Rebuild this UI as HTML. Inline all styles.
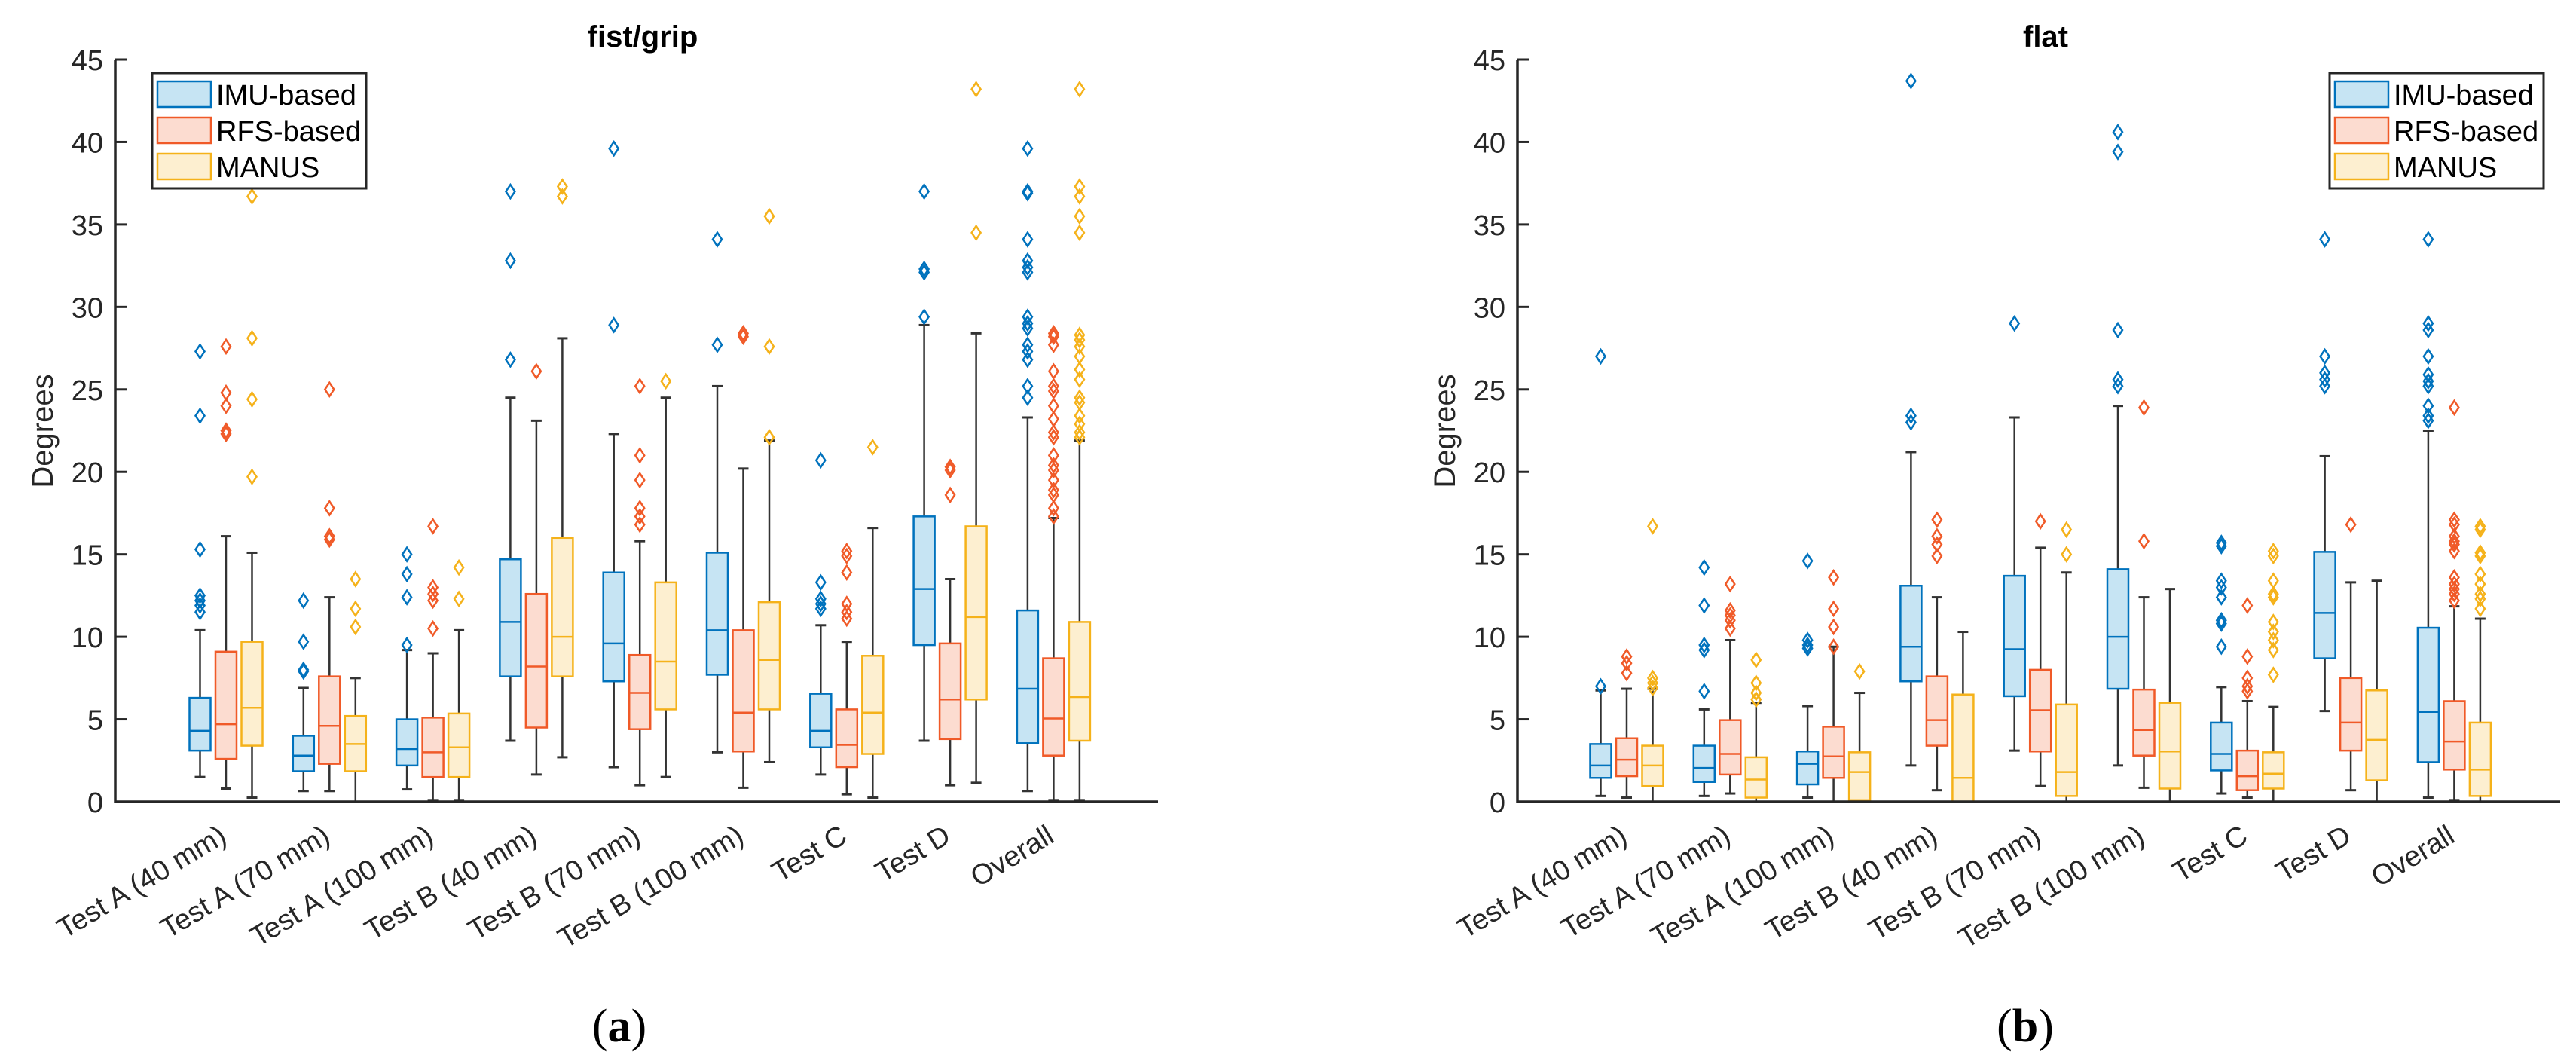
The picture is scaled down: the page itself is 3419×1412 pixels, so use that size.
<!DOCTYPE html>
<html><head><meta charset="utf-8"><style>
html,body{margin:0;padding:0;background:#fff;}
svg{display:block;font-family:"Liberation Sans",Arial,sans-serif;}
</style></head><body>
<svg id="fig" width="3419" height="1412" viewBox="0 0 3419 1412" xmlns="http://www.w3.org/2000/svg"></svg>
<script>
const categories = ["Test A (40 mm)","Test A (70 mm)","Test A (100 mm)","Test B (40 mm)","Test B (70 mm)","Test B (100 mm)","Test C","Test D","Overall"];
const yTicks = [0,5,10,15,20,25,30,35,40,45];
const seriesNames = ["IMU-based","RFS-based","MANUS"];
// [whiskerLow, q1, median, q3, whiskerHigh]
const fistIMU = [[1.5,3.1,4.3,6.3,10.4],[0.65,1.85,2.8,4.0,6.9],[0.75,2.2,3.2,5.0,9.2],[3.7,7.6,10.9,14.7,24.5],[2.1,7.3,9.6,13.9,22.3],[3.0,7.7,10.4,15.1,25.2],[1.65,3.3,4.3,6.55,10.7],[3.7,9.5,12.9,17.3,28.9],[0.65,3.55,6.85,11.6,23.3]];
const fistRFS = [[0.8,2.6,4.7,9.1,16.1],[0.65,2.3,4.6,7.6,12.4],[0.1,1.5,3.0,5.1,9.0],[1.65,4.5,8.2,12.6,23.1],[1.0,4.4,6.6,8.9,15.8],[0.85,3.05,5.4,10.4,20.2],[0.45,2.1,3.45,5.6,9.7],[1.0,3.8,6.2,9.6,13.5],[0.1,2.8,5.05,8.7,17.2]];
const fistMANUS = [[0.25,3.4,5.7,9.7,15.1],[0,1.85,3.5,5.2,7.5],[0.1,1.5,3.3,5.35,10.4],[2.7,7.6,10.0,16.0,28.1],[1.5,5.6,8.5,13.3,24.5],[2.4,5.6,8.6,12.1,21.9],[0.25,2.9,5.4,8.85,16.6],[1.15,6.2,11.2,16.7,28.4],[0.1,3.7,6.35,10.9,21.9]];
const fistIMUOut = [[27.3,23.4,15.3,12.5,12.2,11.9,11.5],[12.2,9.7,8.0,7.9],[15.0,13.8,12.4,9.5],[37.0,32.8,26.8],[39.6,28.9],[34.1,27.7],[20.7,13.3,12.3,12.0,11.7],[37.0,32.3,32.1,29.4],[39.6,37.0,36.9,34.1,32.8,32.4,32.1,29.4,29.0,28.7,27.7,27.3,26.8,25.2,24.5]];
const fistRFSOut = [[27.6,24.8,24.0,22.5,22.3],[25.0,17.8,16.1,15.9],[16.7,13.0,12.6,12.2,10.5],[26.1],[25.2,21.0,19.5,17.8,17.3,16.8],[28.4,28.2],[15.2,14.9,13.9,12.0,11.5,11.1],[20.3,20.1,18.6],[28.4,28.2,27.7,26.1,25.2,24.9,24.0,23.2,22.4,22.1,21.0,20.4,20.1,19.5,18.9,18.6,17.8,17.3]];
const fistMANUSOut = [[36.7,28.1,24.4,19.7],[13.5,11.7,10.6],[14.2,12.3],[37.3,36.7],[25.5],[35.5,27.6,22.1],[21.5],[43.2,34.5],[43.2,37.3,36.7,35.5,34.5,28.3,28.0,27.6,27.0,26.2,25.6,24.5,24.2,23.4,22.9,22.4,22.1]];
const flatIMU = [[0.35,1.45,2.2,3.5,6.75],[0.35,1.2,2.05,3.4,5.6],[0.25,1.05,2.3,3.05,5.8],[2.2,7.3,9.4,13.1,21.2],[3.1,6.4,9.25,13.7,23.3],[2.2,6.85,10.0,14.1,24.0],[0.5,1.9,2.9,4.8,6.95],[5.5,8.7,11.45,15.15,20.95],[0.25,2.4,5.45,10.55,22.5]];
const flatRFS = [[0.25,1.55,2.55,3.85,6.85],[0.5,1.65,2.9,4.95,9.8],[0,1.45,2.75,4.55,9.4],[0.7,3.4,4.95,7.6,12.4],[0.95,3.05,5.55,8.0,15.4],[0.85,2.8,4.35,6.8,12.4],[0.25,0.7,1.55,3.1,6.1],[0.7,3.1,4.8,7.5,13.3],[0.1,1.95,3.65,6.1,11.85]];
const flatMANUS = [[0,0.95,2.2,3.4,6.85],[0,0.25,1.35,2.7,6.0],[0,0.1,1.8,3.0,6.6],[0,0,1.45,6.5,10.3],[0,0.35,1.8,5.9,13.9],[0,0.8,3.05,6.0,12.9],[0,0.8,1.7,3.0,5.75],[0,1.3,3.75,6.75,13.4],[0,0.35,1.95,4.8,11.1]];
const flatIMUOut = [[27.0,7.0],[14.2,11.9,9.5,9.2,6.7],[14.6,9.8,9.5,9.3],[43.7,23.4,23.0],[29.0],[40.6,39.4,28.6,25.6,25.2],[15.7,15.5,13.4,13.0,12.4,11.0,10.8,9.4],[34.1,27.0,26.0,25.6,25.2],[34.1,29.0,28.6,27.0,25.9,25.5,25.2,24.0,23.4,23.1]];
const flatRFSOut = [[8.8,8.4,7.8],[13.2,11.6,11.3,11.0,10.5],[13.6,11.7,10.6,9.4],[17.1,16.1,15.6,14.9],[17.0],[23.9,15.8],[11.9,8.8,7.5,7.0,6.7],[16.8],[23.9,17.1,16.8,16.1,15.8,15.6,15.2,13.6,13.2,12.9,12.6,12.2]];
const flatMANUSOut = [[16.7,7.5,7.2,6.9],[8.6,7.2,6.6,6.2],[7.9],[],[16.5,15.0],[],[15.2,14.9,13.4,12.6,12.4,10.9,10.3,9.8,9.2,7.7],[],[16.7,16.5,15.1,14.9,13.8,13.2,12.6,12.3,11.7]];

const NS="http://www.w3.org/2000/svg";
const svg=document.getElementById('fig');
const strokes=["#0072BD","#F05A28","#F5B21A"];
const fills=["#C6E4F3","#FCDCD0","#FDEFD0"];
function mk(tag,attrs,parent){const e=document.createElementNS(NS,tag);for(const k in attrs)e.setAttribute(k,attrs[k]);(parent||svg).appendChild(e);return e;}

const Y0=1064, Y45=79;
function yScale(v){return Y0-(v/45)*(Y0-Y45);}

function drawChart(cfg){
  const g=mk('g',{});
  
  
  const xScale=(i,s)=>cfg.g0+cfg.gs*i+(s-1)*cfg.off;
  const t=mk('text',{x:cfg.titleX,y:62,'text-anchor':'middle','font-size':40,'font-weight':'bold',fill:'#000'},g);
  t.textContent=cfg.title;
  
  
  yTicks.forEach(v=>{
    const y=yScale(v);
    const tk=mk('line',{x1:cfg.ax0,x2:cfg.ax0+15,y1:y,y2:y,stroke:'#262626','stroke-width':3},g);
    
    
    const lb=mk('text',{x:cfg.ax0-16,y:y+14,'text-anchor':'end','font-size':38,fill:'#262626'},g);
    lb.textContent=v;
    
    
  });
  const yl=mk('text',{x:0,y:0,'text-anchor':'middle','font-size':40,fill:'#262626',transform:`translate(${cfg.ylx},572) rotate(-90)`},g);
  yl.textContent='Degrees';
  
  
  cfg.stats.forEach((arr,s)=>{
    arr.forEach((d,i)=>{
      const cx=xScale(i,s), w=28;
      const bg=mk('g',{},g);
      
      
      mk('line',{x1:cx,x2:cx,y1:yScale(d[0]),y2:yScale(d[1]),stroke:'#333','stroke-width':2.5},bg);
      mk('line',{x1:cx,x2:cx,y1:yScale(d[3]),y2:yScale(d[4]),stroke:'#333','stroke-width':2.5},bg);
      mk('line',{x1:cx-7,x2:cx+7,y1:yScale(d[0]),y2:yScale(d[0]),stroke:'#333','stroke-width':3},bg);
      mk('line',{x1:cx-7,x2:cx+7,y1:yScale(d[4]),y2:yScale(d[4]),stroke:'#333','stroke-width':3},bg);
      mk('rect',{x:cx-w/2,y:yScale(d[3]),width:w,height:Math.max(1,yScale(d[1])-yScale(d[3])),fill:fills[s],stroke:strokes[s],'stroke-width':2.5},bg);
      mk('line',{x1:cx-w/2,x2:cx+w/2,y1:yScale(d[2]),y2:yScale(d[2]),stroke:strokes[s],'stroke-width':2.5},bg);
      cfg.outs[s][i].forEach(v=>{
        const y=yScale(v);
        const o=mk('path',{d:`M${cx} ${y-9} L${cx+6} ${y} L${cx} ${y+9} L${cx-6} ${y} Z`,fill:'none',stroke:strokes[s],'stroke-width':2.5},bg);
        
        
      });
    });
  });
  const ax=mk('path',{d:`M${cfg.ax0} ${Y45} L${cfg.ax0} ${Y0} L${cfg.ax1} ${Y0}`,fill:'none',stroke:'#262626','stroke-width':3.5},g);
  
  
  categories.forEach((c,i)=>{
    const x=xScale(i,1)+3;
    const lb=mk('text',{x:0,y:0,'text-anchor':'end','font-size':38,fill:'#262626',transform:`translate(${x},${Y0+52}) rotate(-31)`},g);
    lb.textContent=c;
    
    
  });
  const lg=mk('g',{},g);
  
  
  mk('rect',{x:cfg.lx,y:97,width:284,height:153,fill:'#fff',stroke:'#262626','stroke-width':3},lg);
  seriesNames.forEach((n,s)=>{
    const cy=125+s*48;
    const e=mk('g',{},lg);
    
    
    mk('rect',{x:cfg.lx+7,y:cy-17,width:71,height:34,fill:fills[s],stroke:strokes[s],'stroke-width':2.5},e);
    const tx=mk('text',{x:cfg.lx+85,y:cy+14,'font-size':38,fill:'#000'},e);
    tx.textContent=n;
  });
  const cap=mk('text',{x:cfg.capX,y:1382,'text-anchor':'middle','font-size':62,'font-family':'"Liberation Serif",serif',fill:'#000'},g);
  cap.innerHTML='(<tspan font-weight="bold">'+cfg.cap+'</tspan>)';
  
  
}

drawChart({name:'chart-fist-grip',title:'fist/grip',titleX:853,ax0:153,ax1:1537,g0:300,gs:137.3,off:34.5,ylx:70,lx:202,capX:822,cap:'a',
  stats:[fistIMU,fistRFS,fistMANUS],outs:[fistIMUOut,fistRFSOut,fistMANUSOut]});
drawChart({name:'chart-flat',title:'flat',titleX:2715,ax0:2014,ax1:3398,g0:2159,gs:137.3,off:34.5,ylx:1931,lx:3092,capX:2688,cap:'b',
  stats:[flatIMU,flatRFS,flatMANUS],outs:[flatIMUOut,flatRFSOut,flatMANUSOut]});
</script>
</body></html>
